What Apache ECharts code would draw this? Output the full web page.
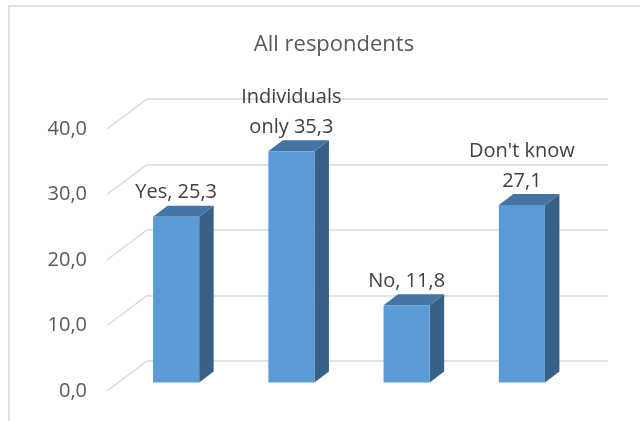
<!DOCTYPE html>
<html>
<head>
<meta charset="utf-8">
<script src="https://cdn.jsdelivr.net/npm/echarts@6/dist/echarts.min.js"></script>
<style>
  html, body { margin: 0; padding: 0; background: #ffffff; }
  #chart { width: 640px; height: 421px; }
</style>
</head>
<body>
<div id="chart"></div>
<script>
// Survey answers, all respondents (percent)
const categories = ['Yes', 'Individuals only', 'No', "Don't know"];
const values = [25.3, 35.3, 11.8, 27.1];
const labelPrefixes = ['Yes, ', 'Individuals\nonly ', 'No, ', "Don't know\n"];
const tickValues = [0, 10, 20, 30, 40];
const tickLabels = ['0,0', '10,0', '20,0', '30,0', '40,0'];

// pseudo-3D geometry (pixels)
const FRONT_DX = 28.5;   // front plane shift to the left of the back wall
const FRONT_DY = 21.5;   // front plane shift downward
const FLOOR_DX = 40;     // full floor depth, x
const FLOOR_DY = 30;     // full floor depth, y
const DEPTH_X = 14.5;    // bar depth, x
const DEPTH_Y = 11;      // bar depth, y
const BAR_RATIO = 0.4;

const FRONT = '#5b9bd5';
const TOP = '#4474a3';
const SIDE = '#386187';
const GRID = '#d9d9d9';
const FONT = '"Open Sans", "Noto Sans", sans-serif';

const fmt = v => v.toFixed(1).replace('.', ',');

const chart = echarts.init(document.getElementById('chart'), null, { renderer: 'canvas' });

function renderFloor(params, api) {
  const v = api.value(1);
  const y = api.coord([0, v])[1];
  const x = params.coordSys.x;
  const i = tickValues.indexOf(v);
  return {
    type: 'group',
    children: [
      {
        type: 'line',
        shape: { x1: x, y1: y, x2: x - FLOOR_DX, y2: y + FLOOR_DY },
        style: { stroke: GRID, lineWidth: 1.5 }
      },
      {
        type: 'text',
        style: {
          text: tickLabels[i],
          x: x - FLOOR_DX - 20,
          y: y + FLOOR_DY,
          align: 'right',
          verticalAlign: 'middle',
          fill: '#595959',
          font: '20px ' + FONT
        }
      }
    ]
  };
}

function renderBar(params, api) {
  const idx = api.value(0);
  const v = api.value(1);
  const base = api.coord([idx, 0]);
  const top = api.coord([idx, v]);
  const band = api.size([1, 0])[0];
  const w = band * BAR_RATIO;
  const cx = base[0] - FRONT_DX;
  const x0 = cx - w / 2, x1 = cx + w / 2;
  const yb = base[1] + FRONT_DY, yt = top[1] + FRONT_DY;
  return {
    type: 'group',
    children: [
      {
        type: 'polygon',
        shape: { points: [[x1, yb], [x1 + DEPTH_X, yb - DEPTH_Y], [x1 + DEPTH_X, yt - DEPTH_Y], [x1, yt]] },
        style: { fill: SIDE }
      },
      {
        type: 'polygon',
        shape: { points: [[x0, yt], [x1, yt], [x1 + DEPTH_X, yt - DEPTH_Y], [x0 + DEPTH_X, yt - DEPTH_Y]] },
        style: { fill: TOP }
      },
      {
        type: 'rect',
        shape: { x: x0, y: yt, width: w, height: yb - yt },
        style: { fill: FRONT }
      },
      {
        type: 'text',
        style: {
          text: labelPrefixes[idx] + fmt(v),
          x: cx,
          y: yt - 9,
          align: 'center',
          verticalAlign: 'bottom',
          lineHeight: 30,
          fill: '#404040',
          font: '20px ' + FONT
        }
      }
    ]
  };
}

chart.setOption({
  animation: false,
  backgroundColor: '#ffffff',
  title: {
    text: 'All respondents',
    left: 329,
    top: 29,
    textAlign: 'center',
    textStyle: { color: '#595959', fontSize: 22, fontWeight: 'normal', fontFamily: FONT }
  },
  graphic: [{
    type: 'rect',
    shape: { x: 9, y: 6, width: 700, height: 500 },
    style: { fill: 'none', stroke: GRID, lineWidth: 1.5 },
    silent: true
  }],
  grid: { left: 147, right: 32, top: 99, bottom: 60 },
  xAxis: {
    type: 'category',
    data: categories,
    axisLine: { show: false },
    axisTick: { show: false },
    axisLabel: { show: false },
    splitLine: { show: false }
  },
  yAxis: {
    type: 'value',
    min: 0,
    max: 40,
    interval: 10,
    axisLine: { show: false },
    axisTick: { show: false },
    axisLabel: { show: false },
    splitLine: { show: true, lineStyle: { color: GRID, width: 1.5 } }
  },
  series: [
    {
      type: 'custom',
      renderItem: renderFloor,
      data: tickValues.map(v => [0, v]),
      z: 1,
      silent: true
    },
    {
      type: 'custom',
      renderItem: renderBar,
      data: values.map((v, i) => [i, v]),
      z: 5
    }
  ]
});
</script>
</body>
</html>
